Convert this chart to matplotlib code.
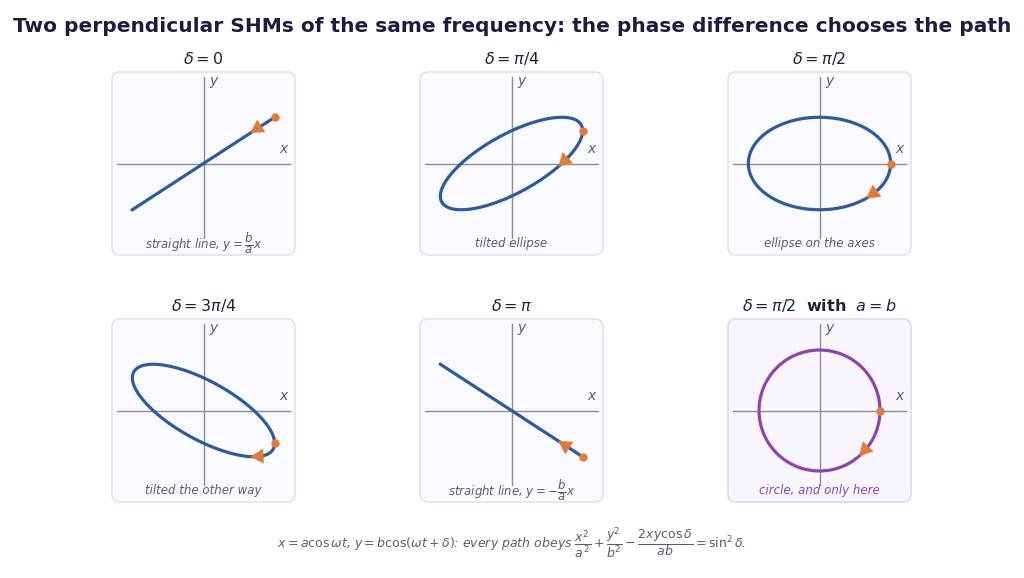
import numpy as np
import matplotlib.pyplot as plt
from matplotlib.patches import FancyBboxPatch

# amplitudes (x, y) and phase difference for each panel
amp_a = [1.0, 1.0, 1.0, 1.0, 1.0, 0.85]
amp_b = [0.65, 0.65, 0.65, 0.65, 0.65, 0.85]
deltas = [0, np.pi / 4, np.pi / 2, 3 * np.pi / 4, np.pi, np.pi / 2]
titles = [r'$\delta = 0$', r'$\delta = \pi/4$', r'$\delta = \pi/2$',
          r'$\delta = 3\pi/4$', r'$\delta = \pi$',
          r'$\delta = \pi/2$  $\mathbf{with}$  $a = b$']
captions = [r'straight line, $y = \dfrac{b}{a}x$', 'tilted ellipse', 'ellipse on the axes',
            'tilted the other way', r'straight line, $y = -\dfrac{b}{a}x$', 'circle, and only here']
arrow_t = np.pi / 4

blue = '#2f5b9c'
purple = '#8e44ad'
orange = '#e07b39'
axcol = '#8c8c9c'
txtcol = '#5c5c6e'

fig = plt.figure(figsize=(10.24, 5.78), dpi=100)
W, H = 1024, 578
lefts = [111, 419, 727]
tops = [71, 318]
size = 185

for i in range(6):
    r, c = divmod(i, 3)
    ax = fig.add_axes([lefts[c] / W, (H - tops[r] - size) / H, size / W, size / H])
    ax.set_xlim(-1.3, 1.3)
    ax.set_ylim(-1.3, 1.3)
    ax.axis('off')
    special = i == 5
    face = '#f9f5fd' if special else '#f8fafd'
    edge = '#e2d6f0' if special else '#dfe4ee'
    ax.add_patch(FancyBboxPatch((0.005, 0.005), 0.99, 0.99, boxstyle='round,pad=0,rounding_size=0.045',
                                transform=ax.transAxes, facecolor=face, edgecolor=edge,
                                linewidth=1.2, zorder=0, clip_on=False))
    ax.plot([-1.22, 1.22], [0, 0], color=axcol, lw=1, zorder=1)
    ax.plot([0, 0], [-1.05, 1.22], color=axcol, lw=1, zorder=1)
    ax.text(1.13, 0.1, 'x', style='italic', color=txtcol, fontsize=10, ha='center', va='bottom')
    ax.text(0.08, 1.16, 'y', style='italic', color=txtcol, fontsize=10, ha='left', va='center')

    a, b, d = amp_a[i], amp_b[i], deltas[i]
    col = purple if special else blue
    # a degenerate path (line) is traced only once, so it is not drawn twice
    flat = np.isclose(np.sin(d), 0)
    t = np.linspace(0, np.pi if flat else 2 * np.pi, 400)
    x = a * np.cos(t)
    y = b * np.cos(t + d)
    ax.plot(x, y, color=col, lw=2.3, zorder=3)
    ax.plot(a, b * np.cos(d), 'o', color=orange, ms=5, zorder=5)
    t0, t1 = arrow_t - 0.15, arrow_t + 0.07
    ax.annotate('', xy=(a * np.cos(t1), b * np.cos(t1 + d)),
                xytext=(a * np.cos(t0), b * np.cos(t0 + d)),
                arrowprops=dict(arrowstyle='-|>,head_length=0.8,head_width=0.45',
                                mutation_scale=12, color=orange, lw=0,
                                shrinkA=0, shrinkB=0), zorder=6)
    ax.text(0, -1.12, captions[i], style='italic', fontsize=8.5, ha='center', va='center',
            color=purple if special else txtcol)
    ax.set_title(titles[i], fontsize=11.5, color='#22223a', pad=5)

fig.text(0.5, 1 - 26 / H, 'Two perpendicular SHMs of the same frequency: the phase difference chooses the path',
         ha='center', va='center', fontsize=14.5, fontweight='bold', color='#1f1b3e')
fig.text(0.5, 1 - 543 / H,
         r'$x = a\cos\omega t$, $y = b\cos(\omega t + \delta)$: every path obeys '
         r'$\dfrac{x^2}{a^2} + \dfrac{y^2}{b^2} - \dfrac{2xy\cos\delta}{ab} = \sin^2\delta$.',
         ha='center', va='center', fontsize=9, color=txtcol, style='italic')

plt.savefig('out.png', dpi=100)
